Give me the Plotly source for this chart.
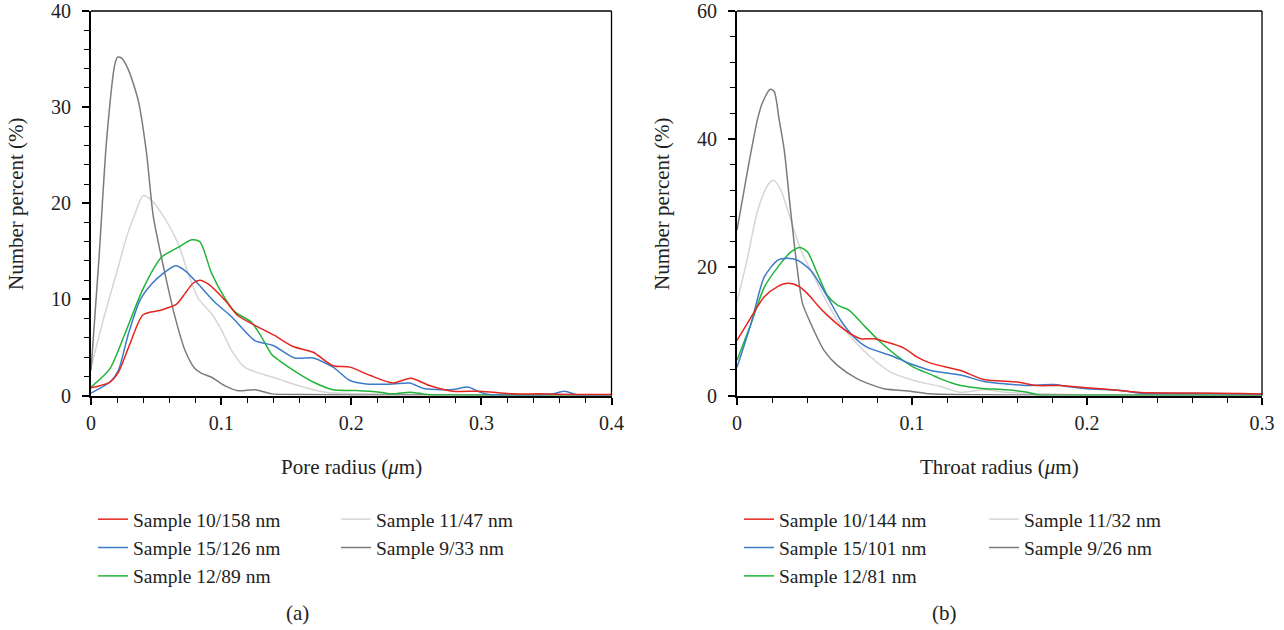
import plotly.graph_objects as go

W, H = 1284, 630

# ---------------- Data: (a) Pore radius ----------------
pore_s10_x = [0, 0.0146, 0.021, 0.03, 0.040, 0.0543, 0.0658, 0.0722, 0.0786, 0.0837, 0.09, 0.103, 0.113, 0.126, 0.141, 0.1553, 0.1707, 0.186, 0.199, 0.2142, 0.232, 0.246, 0.26, 0.278, 0.2987, 0.324, 0.345, 0.37, 0.4]
pore_s10_y = [0.8, 1.4, 2.4, 5.4, 8.4, 8.9, 9.5, 10.6, 11.7, 12.0, 11.6, 9.9, 8.3, 7.3, 6.25, 5.1, 4.5, 3.1, 2.95, 2.1, 1.3, 1.8, 1.04, 0.45, 0.45, 0.17, 0.17, 0.1, 0.1]

pore_s15_x = [0, 0.0146, 0.021, 0.0287, 0.0376, 0.0466, 0.0555, 0.065, 0.0722, 0.0824, 0.0952, 0.108, 0.126, 0.14, 0.1566, 0.1707, 0.186, 0.199, 0.2117, 0.232, 0.245, 0.255, 0.265, 0.278, 0.29, 0.2987, 0.306, 0.33, 0.34, 0.355, 0.364, 0.375, 0.4]
pore_s15_y = [0.25, 1.4, 2.6, 6.4, 9.9, 11.6, 12.7, 13.5, 13.0, 11.6, 9.7, 8.2, 5.7, 5.2, 3.9, 3.9, 2.95, 1.56, 1.2, 1.2, 1.3, 0.76, 0.62, 0.62, 0.87, 0.35, 0.1, 0.05, 0.0, 0.17, 0.45, 0.0, 0.05]

pore_s12_x = [0, 0.0146, 0.026, 0.040, 0.0543, 0.067, 0.0773, 0.0837, 0.0927, 0.103, 0.1106, 0.1234, 0.131, 0.1387, 0.145, 0.158, 0.1707, 0.186, 0.204, 0.222, 0.232, 0.245, 0.255, 0.262, 0.28, 0.3, 0.4]
pore_s12_y = [0.87, 2.8, 6.4, 11.1, 14.4, 15.4, 16.2, 16.0, 12.7, 10.1, 8.7, 7.6, 6.1, 4.3, 3.6, 2.4, 1.4, 0.6, 0.52, 0.35, 0.17, 0.35, 0.17, 0.05, 0.05, 0.03, 0.03]

pore_s11_x = [0, 0.0107, 0.021, 0.0274, 0.0338, 0.0402, 0.0466, 0.0568, 0.067, 0.0747, 0.0824, 0.0927, 0.1003, 0.108, 0.118, 0.1285, 0.1438, 0.159, 0.18, 0.21, 0.25, 0.3, 0.4]
pore_s11_y = [2.9, 8.5, 13.4, 16.5, 18.9, 20.8, 20.3, 18.4, 15.8, 12.7, 10.1, 8.5, 6.8, 4.7, 2.95, 2.35, 1.73, 1.04, 0.35, 0.17, 0.1, 0.05, 0.05]

pore_s9_x = [0, 0.006, 0.012, 0.0184, 0.0205, 0.0235, 0.0287, 0.0363, 0.0427, 0.0479, 0.0568, 0.0645, 0.0722, 0.0798, 0.085, 0.0927, 0.103, 0.113, 0.126, 0.139, 0.16, 0.2, 0.3, 0.4]
pore_s9_y = [2.6, 14, 26.6, 34.5, 35.2, 35.1, 33.9, 30.7, 25.2, 18.6, 12.7, 8.2, 4.7, 2.8, 2.3, 1.9, 1.0, 0.5, 0.6, 0.17, 0.1, 0.05, 0.05, 0.05]

# ---------------- Data: (b) Throat radius ----------------
thr_s10_x = [0, 0.008, 0.0156, 0.0232, 0.0293, 0.0355, 0.0403, 0.046, 0.0517, 0.0593, 0.065, 0.0707, 0.0783, 0.086, 0.0954, 0.103, 0.1106, 0.1278, 0.141, 0.16, 0.1715, 0.1848, 0.2, 0.219, 0.2304, 0.259, 0.288, 0.3]
thr_s10_y = [8.6, 12.2, 15.4, 17.0, 17.5, 17.0, 15.9, 14.1, 12.5, 10.7, 9.6, 8.85, 8.85, 8.3, 7.4, 6.0, 5.05, 3.9, 2.5, 2.1, 1.56, 1.56, 1.2, 0.78, 0.47, 0.4, 0.3, 0.25]

thr_s15_x = [0, 0.008, 0.0156, 0.0232, 0.0289, 0.0346, 0.0422, 0.0517, 0.0593, 0.0669, 0.0745, 0.0878, 0.0992, 0.1106, 0.1278, 0.141, 0.154, 0.166, 0.181, 0.1886, 0.2, 0.219, 0.2304, 0.25, 0.27, 0.3]
thr_s15_y = [4.4, 11.2, 18.5, 21.1, 21.4, 21.1, 19.5, 15.4, 11.7, 9.1, 7.5, 6.25, 4.95, 3.9, 3.2, 2.2, 1.8, 1.56, 1.7, 1.4, 1.04, 0.78, 0.36, 0.3, 0.3, 0.2]

thr_s12_x = [0, 0.008, 0.0156, 0.0232, 0.0308, 0.0361, 0.0403, 0.046, 0.0517, 0.0574, 0.0641, 0.0726, 0.0821, 0.0917, 0.1011, 0.1106, 0.1163, 0.1278, 0.139, 0.154, 0.166, 0.173, 0.2, 0.3]
thr_s12_y = [5.5, 11.2, 16.9, 20.0, 22.4, 23.1, 22.4, 19.0, 15.6, 14.1, 13.3, 10.9, 8.3, 6.1, 4.4, 3.3, 2.6, 1.56, 1.15, 0.88, 0.5, 0.05, 0.03, 0.03]

thr_s11_x = [0, 0.0061, 0.0118, 0.0175, 0.0209, 0.0251, 0.0308, 0.0365, 0.0422, 0.0498, 0.0574, 0.0669, 0.0764, 0.0878, 0.1011, 0.1163, 0.1278, 0.141, 0.154, 0.17, 0.2, 0.3]
thr_s11_y = [14.6, 21.6, 28.9, 32.8, 33.6, 32.0, 27.3, 22.7, 19.5, 15.4, 11.7, 8.6, 6.0, 3.65, 2.35, 1.4, 0.5, 0.9, 0.5, 0.3, 0.1, 0.05]

thr_s9_x = [0, 0.0061, 0.0118, 0.0147, 0.019, 0.0213, 0.0241, 0.027, 0.0298, 0.0327, 0.0355, 0.0375, 0.0422, 0.0498, 0.0574, 0.0688, 0.084, 0.099, 0.11, 0.14, 0.2, 0.3]
thr_s9_y = [25.8, 35.2, 43.2, 45.8, 47.8, 47.4, 43.0, 38.3, 31.0, 23.7, 17.5, 14.3, 11.2, 7.0, 4.7, 2.6, 1.04, 0.68, 0.26, 0.1, 0.05, 0.05]

pore_names = ["Sample 10/158 nm", "Sample 15/126 nm", "Sample 12/89 nm", "Sample 11/47 nm", "Sample 9/33 nm"]
throat_names = ["Sample 10/144 nm", "Sample 15/101 nm", "Sample 12/81 nm", "Sample 11/32 nm", "Sample 9/26 nm"]

colors = ["#e5261f", "#3b7bc8", "#22b43a", "#d6d6d6", "#7b7b7b"]

FONT = "Liberation Serif"
FS = 20
FS_LEG = 19.5
FS_TITLE = 21

fig = go.Figure()

pore = [(pore_s10_x, pore_s10_y), (pore_s15_x, pore_s15_y), (pore_s12_x, pore_s12_y),
        (pore_s11_x, pore_s11_y), (pore_s9_x, pore_s9_y)]
throat = [(thr_s10_x, thr_s10_y), (thr_s15_x, thr_s15_y), (thr_s12_x, thr_s12_y),
          (thr_s11_x, thr_s11_y), (thr_s9_x, thr_s9_y)]

draw_order = [3, 4, 2, 1, 0]
for panel, (series, names, xa, ya, legs) in enumerate([
        (pore, pore_names, "x", "y", ["legend", "legend2"]),
        (throat, throat_names, "x2", "y2", ["legend3", "legend4"])]):
    for i in draw_order:
        xs, ys = series[i]
        fig.add_trace(go.Scatter(
            x=xs, y=ys, mode="lines", name=names[i],
            line=dict(color=colors[i], width=1.5, shape="spline", smoothing=0.7),
            xaxis=xa, yaxis=ya,
            legend=legs[0] if i < 3 else legs[1],
            legendrank=i + 1,
        ))

def px2x(p):
    return p / W

def py2y(p):
    return 1 - p / H

ydom = [py2y(395.5), py2y(11)]
common_axis = dict(
    showline=True, linecolor="black", linewidth=2, mirror=False,
    ticks="outside", ticklen=7, tickwidth=1.5, tickcolor="black",
    showgrid=False, zeroline=False, automargin=False,
    tickfont=dict(family=FONT, size=FS, color="#222"),
)

fig.update_layout(
    width=W, height=H,
    margin=dict(l=0, r=0, t=0, b=0),
    paper_bgcolor="white", plot_bgcolor="white",
    font=dict(family=FONT, size=FS, color="#222"),
    showlegend=True,
    xaxis=dict(domain=[px2x(91), px2x(611.5)], range=[0, 0.4], dtick=0.1, anchor="y",
               minor=dict(dtick=0.02, ticks="outside", ticklen=5, tickcolor="black", tickwidth=1.2),
               ticklabelstandoff=1, **common_axis),
    yaxis=dict(domain=ydom, range=[0, 40], dtick=10, anchor="x",
               minor=dict(dtick=2, ticks="outside", ticklen=5, tickcolor="black", tickwidth=1.2),
               ticklabelstandoff=7, **common_axis),
    xaxis2=dict(domain=[px2x(737), px2x(1262)], range=[0, 0.3], dtick=0.1, anchor="y2",
                minor=dict(dtick=0.02, ticks="outside", ticklen=5, tickcolor="black", tickwidth=1.2),
                ticklabelstandoff=1, **common_axis),
    yaxis2=dict(domain=ydom, range=[0, 60], dtick=20, anchor="x2",
                minor=dict(dtick=4, ticks="outside", ticklen=5, tickcolor="black", tickwidth=1.2),
                ticklabelstandoff=7, **common_axis),
)

leg_common = dict(orientation="v", xanchor="left", yanchor="top", bgcolor="rgba(0,0,0,0)",
                  font=dict(family=FONT, size=FS_LEG, color="#222"), traceorder="normal",
                  itemclick=False, itemdoubleclick=False)
fig.update_layout(
    legend=dict(x=px2x(93), y=py2y(500), **leg_common),
    legend2=dict(x=px2x(336), y=py2y(500), **leg_common),
    legend3=dict(x=px2x(739), y=py2y(500), **leg_common),
    legend4=dict(x=px2x(984), y=py2y(500), **leg_common),
)

# top / right frame lines
for xr, yr in [("x", "y"), ("x2", "y2")]:
    fig.add_shape(type="line", xref=f"{xr} domain", yref=f"{yr} domain", x0=0, x1=1, y0=1, y1=1,
                  line=dict(color="black", width=1.3))
    fig.add_shape(type="line", xref=f"{xr} domain", yref=f"{yr} domain", x0=1, x1=1, y0=0, y1=1,
                  line=dict(color="black", width=1.3))

ann_font = dict(family=FONT, size=FS_TITLE, color="#222")
annotations = [
    dict(text="Pore radius (<i>μ</i>m)", x=px2x(351), y=py2y(467)),
    dict(text="Throat radius (<i>μ</i>m)", x=px2x(999), y=py2y(467)),
    dict(text="Number percent (%)", x=px2x(16), y=py2y(204), textangle=-90),
    dict(text="Number percent (%)", x=px2x(662), y=py2y(204), textangle=-90),
    dict(text="(a)", x=px2x(297), y=py2y(613)),
    dict(text="(b)", x=px2x(944), y=py2y(613)),
]
for a in annotations:
    fig.add_annotation(xref="paper", yref="paper", showarrow=False, xanchor="center",
                       yanchor="middle", font=ann_font, **a)

fig.write_html("out.html",
               config={"displayModeBar": False},
               post_script="document.body.style.margin='0';document.body.style.overflow='hidden';")
